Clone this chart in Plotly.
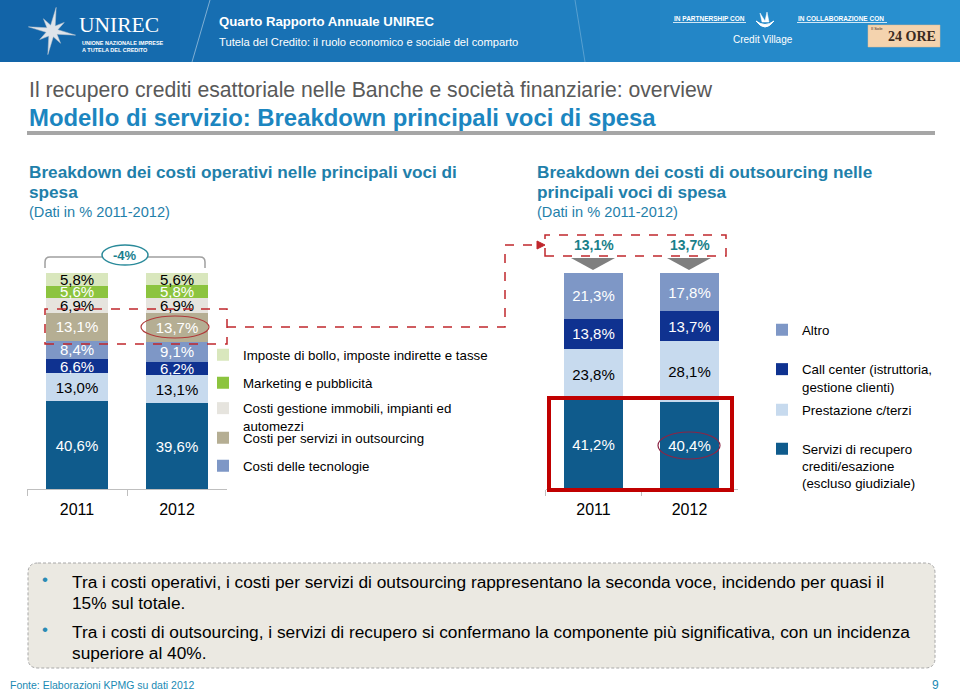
import math
import plotly.graph_objects as go

W, H = 960, 692
FONT = "Liberation Sans, Arial, sans-serif"


def px(x):
    return x / W


def py(y):
    return 1 - y / H


def fmt(v):
    return f"{v:.1f}".replace(".", ",") + "%"


# ---------------- DATA ----------------
years = ["2011", "2012"]

# Left chart: operating costs breakdown (bottom -> top)
op_voce_a = [40.6, 39.6]          # label not shown in the legend of the source
op_voce_b = [13.0, 13.1]          # label not shown in the legend of the source
op_voce_c = [6.6, 6.2]            # label not shown in the legend of the source
op_tecnologie = [8.4, 9.1]
op_outsourcing = [13.1, 13.7]
op_immobili = [6.9, 6.9]
op_marketing = [5.6, 5.8]
op_imposte = [5.8, 5.6]
op_total_change = "-4%"

# Right chart: outsourcing costs breakdown (bottom -> top)
out_recupero = [41.2, 40.4]
out_terzi = [23.8, 28.1]
out_callcenter = [13.8, 13.7]
out_altro = [21.3, 17.8]

# ---------------- COLOURS ----------------
C_TEAL = "#0f5b8c"
C_LIGHT = "#c7daee"
C_NAVY = "#0f3290"
C_SLATE = "#7e97c6"
C_TAN = "#b5ae93"
C_GREY = "#e6e4de"
C_GREEN = "#8cc43f"
C_LGREEN = "#d9e7bd"
C_HEAD = "#1f80aa"
C_RED = "#c0272d"

AX_Y = 489   # pixel row of both category axes
TOP_Y = 273  # pixel row of the 100% level

fig = go.Figure()


def add_bar(name, vals, color, tcolor, xa, ya, legend=None, show=True):
    fig.add_trace(go.Bar(
        x=years, y=vals, name=name,
        marker=dict(color=color, line=dict(width=0)),
        width=0.62,
        text=[fmt(v) for v in vals],
        textposition="inside", insidetextanchor="middle",
        textangle=0, constraintext="none",
        textfont=dict(size=15, color=tcolor, family=FONT),
        xaxis=xa, yaxis=ya,
        legend=legend if legend else "legend",
        showlegend=show,
        hovertemplate="%{x}: %{y:.1f}%<extra>" + name.replace("<br>", " ") + "</extra>",
    ))


# left chart traces (bottom -> top)
add_bar("Voce A", op_voce_a, C_TEAL, "white", "x", "y", show=False)
add_bar("Voce B", op_voce_b, C_LIGHT, "black", "x", "y", show=False)
add_bar("Voce C", op_voce_c, C_NAVY, "white", "x", "y", show=False)
add_bar("Costi delle tecnologie", op_tecnologie, C_SLATE, "white", "x", "y", "legend5")
add_bar("Costi per servizi in outsourcing", op_outsourcing, C_TAN, "white", "x", "y", "legend4")
add_bar("Costi gestione immobili, impianti ed<br>automezzi", op_immobili, C_GREY, "black", "x", "y", "legend3")
add_bar("Marketing e pubblicità", op_marketing, C_GREEN, "white", "x", "y", "legend2")
add_bar("Imposte di bollo, imposte indirette e tasse", op_imposte, C_LGREEN, "black", "x", "y", "legend")

# right chart traces (bottom -> top)
add_bar("Servizi di recupero<br>crediti/esazione<br>(escluso giudiziale)", out_recupero, C_TEAL, "white", "x2", "y2", "legend9")
add_bar("Prestazione c/terzi", out_terzi, C_LIGHT, "black", "x2", "y2", "legend8")
add_bar("Call center (istruttoria,<br>gestione clienti)", out_callcenter, C_NAVY, "white", "x2", "y2", "legend7")
add_bar("Altro", out_altro, C_SLATE, "white", "x2", "y2", "legend6")


# ---------------- LEGENDS ----------------
def leg(xt, yc):
    return dict(x=px(xt), y=py(yc), xanchor="left", yanchor="middle",
                bgcolor="rgba(0,0,0,0)", borderwidth=0, itemwidth=30,
                valign="top", font=dict(size=13.3, color="black", family=FONT),
                itemclick=False, itemdoubleclick=False)


LX, RX = 203, 762
legends = {
    "legend": leg(LX, 355),
    "legend2": leg(LX, 383),
    "legend3": leg(LX, 417),
    "legend4": leg(LX, 438),
    "legend5": leg(LX, 466),
    "legend6": leg(RX, 330),
    "legend7": leg(RX, 378),
    "legend8": leg(RX, 410),
    "legend9": leg(RX, 466),
}

axis_x = dict(type="category", range=[-0.5, 1.5], showline=True, linecolor="#bfbfbf", linewidth=1,
              ticks="outside", tickson="boundaries", ticklen=6, tickcolor="#bfbfbf",
              tickfont=dict(size=16, color="black", family=FONT), showgrid=False,
              zeroline=False, fixedrange=True, ticklabelstandoff=6)
axis_y = dict(visible=False, fixedrange=True, showgrid=False, zeroline=False)

# ---------------- SHAPES ----------------
shapes = []

# banner gradient
n = 32
c0 = (18, 100, 168)
c1 = (42, 147, 210)
for i in range(n):
    t = i / (n - 1)
    col = tuple(int(c0[k] + (c1[k] - c0[k]) * t) for k in range(3))
    shapes.append(dict(type="rect", xref="paper", yref="paper",
                       x0=px(i * W / n), x1=px((i + 1) * W / n + 1), y0=py(62), y1=py(0),
                       fillcolor=f"rgb{col}", line=dict(width=0), layer="below"))
shapes.append(dict(type="line", xref="paper", yref="paper", x0=px(210), y0=py(0), x1=px(192), y1=py(62),
                   line=dict(color="rgba(255,255,255,0.45)", width=1)))
shapes.append(dict(type="line", xref="paper", yref="paper", x0=px(575), y0=py(0), x1=px(585), y1=py(62),
                   line=dict(color="rgba(255,255,255,0.25)", width=1)))

# star logo
cx, cy = 52, 31
pts = []
for k in range(16):
    ang = math.radians(-90 + k * 22.5 + 10)
    r = 24 if k % 4 == 0 else (15 if k % 4 == 2 else 6)
    pts.append((cx + r * math.cos(ang), cy + r * math.sin(ang)))
path = "M " + " L ".join(f"{px(a)},{py(b)}" for a, b in pts) + " Z"
shapes.append(dict(type="path", xref="paper", yref="paper", path=path,
                   fillcolor="#dfe4ea", line=dict(color="#b8c2cc", width=0.5)))

# partner underlines
shapes.append(dict(type="line", xref="paper", yref="paper", x0=px(673), x1=px(746), y0=py(22.5), y1=py(22.5),
                   line=dict(color="white", width=0.8)))
shapes.append(dict(type="line", xref="paper", yref="paper", x0=px(797), x1=px(887), y0=py(22.5), y1=py(22.5),
                   line=dict(color="white", width=0.8)))
# credit village icon
shapes.append(dict(type="path", xref="paper", yref="paper",
                   path=f"M {px(756)},{py(21)} Q {px(765)},{py(33)} {px(774)},{py(21)} Q {px(765)},{py(28)} {px(756)},{py(21)} Z",
                   fillcolor="white", line=dict(color="white", width=1)))
shapes.append(dict(type="path", xref="paper", yref="paper",
                   path=f"M {px(762)},{py(22)} L {px(760)},{py(13)} L {px(765)},{py(21)} L {px(767)},{py(12)} L {px(769)},{py(22)} Z",
                   fillcolor="white", line=dict(color="white", width=0.5)))
# 24 ORE box
shapes.append(dict(type="rect", xref="paper", yref="paper", x0=px(868), x1=px(940), y0=py(47), y1=py(25),
                   fillcolor="#f4d3ae", line=dict(color="#e0b890", width=0.5)))

# grey rule under title
shapes.append(dict(type="rect", xref="paper", yref="paper", x0=px(27), x1=px(935), y0=py(135), y1=py(131),
                   fillcolor="#a6a6a6", line=dict(width=0)))

# bracket over the left bars + oval
shapes.append(dict(type="path", xref="paper", yref="paper",
                   path=(f"M {px(45)},{py(268)} L {px(45)},{py(262)} Q {px(45)},{py(257)} {px(50)},{py(257)} "
                         f"L {px(102)},{py(257)} M {px(148)},{py(257)} L {px(200)},{py(257)} "
                         f"Q {px(205)},{py(257)} {px(205)},{py(262)} L {px(205)},{py(268)}"),
                   line=dict(color="#a0a0a0", width=1.5)))
shapes.append(dict(type="circle", xref="paper", yref="paper", x0=px(102), x1=px(148), y0=py(265), y1=py(245),
                   fillcolor="white", line=dict(color="#2a8a9a", width=1.5)))

# red dashed box around outsourcing row (left)
shapes.append(dict(type="rect", xref="paper", yref="paper", x0=px(45), x1=px(227), y0=py(344), y1=py(309),
                   line=dict(color=C_RED, width=1.5, dash="dash")))
# connector
shapes.append(dict(type="path", xref="paper", yref="paper",
                   path=f"M {px(227)},{py(327)} L {px(505)},{py(327)} L {px(505)},{py(245)} L {px(538)},{py(245)}",
                   line=dict(color=C_RED, width=1.5, dash="dash")))
shapes.append(dict(type="path", xref="paper", yref="paper",
                   path=f"M {px(537)},{py(241)} L {px(545)},{py(245)} L {px(537)},{py(249)} Z",
                   fillcolor=C_RED, line=dict(color=C_RED, width=1)))
# red dashed box (right, top values)
shapes.append(dict(type="rect", xref="paper", yref="paper", x0=px(545), x1=px(726), y0=py(256), y1=py(235),
                   line=dict(color=C_RED, width=1.5, dash="dash")))
# hand-drawn ellipse around 13,7%
shapes.append(dict(type="circle", xref="paper", yref="paper", x0=px(141), x1=px(209), y0=py(338), y1=py(316),
                   line=dict(color="#b03a3a", width=1.2)))
# grey chevrons above right bars
for cxp in (593, 689):
    shapes.append(dict(type="path", xref="paper", yref="paper",
                       path=f"M {px(cxp - 22)},{py(258)} L {px(cxp + 22)},{py(258)} L {px(cxp)},{py(270)} Z",
                       fillcolor="#7f7f7f", line=dict(width=0)))
# red solid box around recovery services
shapes.append(dict(type="rect", xref="paper", yref="paper", x0=px(549), x1=px(732), y0=py(AX_Y + 1), y1=py(398),
                   line=dict(color="#c00000", width=4)))
# ellipse around 40,4%
shapes.append(dict(type="circle", xref="paper", yref="paper", x0=px(658), x1=px(720), y0=py(459), y1=py(432),
                   line=dict(color="#8b2545", width=1.2)))

# bottom rounded box
x0b, x1b, y0b, y1b, r = 28, 935, 563, 668, 10
shapes.append(dict(type="path", xref="paper", yref="paper", layer="below",
                   path=(f"M {px(x0b + r)},{py(y0b)} L {px(x1b - r)},{py(y0b)} Q {px(x1b)},{py(y0b)} {px(x1b)},{py(y0b + r)} "
                         f"L {px(x1b)},{py(y1b - r)} Q {px(x1b)},{py(y1b)} {px(x1b - r)},{py(y1b)} "
                         f"L {px(x0b + r)},{py(y1b)} Q {px(x0b)},{py(y1b)} {px(x0b)},{py(y1b - r)} "
                         f"L {px(x0b)},{py(y0b + r)} Q {px(x0b)},{py(y0b)} {px(x0b + r)},{py(y0b)} Z"),
                   fillcolor="#ebe9e2", line=dict(color="#a8a8a8", width=1, dash="3px,2px")))

# ---------------- ANNOTATIONS ----------------
ann = []


def txt(x, y, s, size, color="black", bold=False, family=FONT, xanchor="left", yanchor="middle"):
    ann.append(dict(x=px(x), y=py(y), xref="paper", yref="paper", text=f"<b>{s}</b>" if bold else s,
                    showarrow=False, xanchor=xanchor, yanchor=yanchor, align="left",
                    font=dict(size=size, color=color, family=family)))


# banner
txt(77, 25, "UNIREC", 21.5, "white", family="Liberation Serif, serif")
txt(80, 43, "UNIONE NAZIONALE IMPRESE", 5.5, "white", True)
txt(80, 49.5, "A TUTELA DEL CREDITO", 5.5, "white", True)
txt(217, 22, "Quarto Rapporto Annuale UNIREC", 13.2, "white", True)
txt(217, 42, "Tutela del Credito: il ruolo economico e sociale del comparto", 11.2, "white")
txt(672, 18, "IN PARTNERSHIP CON", 6.5, "white", True)
txt(796, 18, "IN COLLABORAZIONE CON", 6.5, "white", True)
txt(763, 40, "Credit Village", 10, "white", xanchor="center")
txt(912, 37, "24 ORE", 14, "#3b2a1e", True, family="Liberation Serif, serif", xanchor="center")
txt(869, 29, "Il Sole", 4.2, "#3b2a1e")

# titles
txt(27, 90, "Il recupero crediti esattoriale nelle Banche e società finanziarie: overview", 21.2, "#595959")
txt(27, 117, "Modello di servizio: Breakdown principali voci di spesa", 23.9, "#1c86c0", True)

# section headers
txt(27, 172, "Breakdown dei costi operativi nelle principali voci di", 17.2, C_HEAD, True)
txt(27, 192, "spesa", 17.2, C_HEAD, True)
txt(27, 212, "(Dati in % 2011-2012)", 14.6, C_HEAD)
txt(535, 172, "Breakdown dei costi di outsourcing nelle", 17.2, C_HEAD, True)
txt(535, 192, "principali voci di spesa", 17.2, C_HEAD, True)
txt(535, 212, "(Dati in % 2011-2012)", 14.6, C_HEAD)

# -4% label
txt(125, 255, op_total_change, 13, "#1a7f8e", True, xanchor="center")

# outsourcing share repeated above the right bars (category index on x2)
for i, v in enumerate(op_outsourcing):
    ann.append(dict(x=i, xref="x2", y=py(245), yref="paper", text=f"<b>{fmt(v)}</b>", showarrow=False,
                    xanchor="center", yanchor="middle", font=dict(size=14, color="#1a7f8a", family=FONT)))

# bottom notes
txt(40, 579, "•", 17, "#2a8bb5")
txt(40, 629, "•", 17, "#2a8bb5")
txt(70, 582, "Tra i costi operativi, i costi per servizi di outsourcing rappresentano la seconda voce, incidendo per quasi il", 17.3)
txt(70, 603, "15% sul totale.", 17.3)
txt(70, 632, "Tra i costi di outsourcing, i servizi di recupero si confermano la componente più significativa, con un incidenza", 17.3)
txt(70, 653, "superiore al 40%.", 17.3)

# footer
txt(8, 685, "Fonte: Elaborazioni KPMG su dati 2012", 10.5, "#1a8ab4")
txt(930, 685, "9", 12, "#1a8ab4")

layout = dict(
    width=W, height=H, margin=dict(l=0, r=0, t=0, b=0),
    paper_bgcolor="white", plot_bgcolor="rgba(0,0,0,0)",
    barmode="stack",
    font=dict(family=FONT, color="black"),
    xaxis=dict(domain=[px(27), px(227)], anchor="y", **axis_x),
    yaxis=dict(domain=[py(AX_Y), py(TOP_Y)], range=[0, 100], anchor="x", **axis_y),
    xaxis2=dict(domain=[px(545.5), px(737.5)], anchor="y2", **axis_x),
    yaxis2=dict(domain=[py(AX_Y), py(TOP_Y)], range=[0, 100], anchor="x2", **axis_y),
    shapes=shapes, annotations=ann,
    hovermode="closest",
)
layout.update(legends)
fig.update_layout(**layout)

fig.write_html("out.html")
